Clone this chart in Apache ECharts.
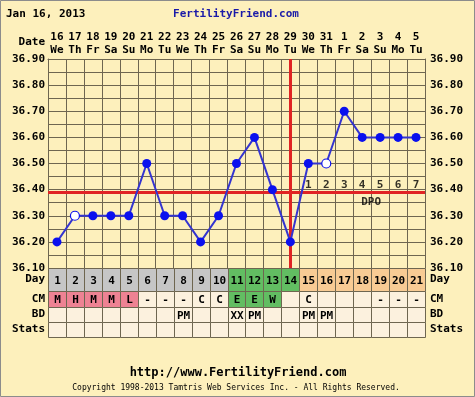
<!DOCTYPE html>
<html>
<head>
<meta charset="utf-8">
<title>BBT chart</title>
<script src="https://cdn.jsdelivr.net/npm/echarts@6/dist/echarts.min.js"></script>
<style>
  html, body { margin: 0; padding: 0; background: #fdf0bc; }
  #chart { width: 475px; height: 397px; }
</style>
</head>
<body>
<div id="chart"></div>
<script>
// chart data
const dates = ['16', '17', '18', '19', '20', '21', '22', '23', '24', '25', '26', '27', '28', '29', '30', '31', '1', '2', '3', '4', '5']
const weekdays = ['We', 'Th', 'Fr', 'Sa', 'Su', 'Mo', 'Tu', 'We', 'Th', 'Fr', 'Sa', 'Su', 'Mo', 'Tu', 'We', 'Th', 'Fr', 'Sa', 'Su', 'Mo', 'Tu']
const cycleDays = ['1', '2', '3', '4', '5', '6', '7', '8', '9', '10', '11', '12', '13', '14', '15', '16', '17', '18', '19', '20', '21']
const temps = [36.2, 36.3, 36.3, 36.3, 36.3, 36.5, 36.3, 36.3, 36.2, 36.3, 36.5, 36.6, 36.4, 36.2, 36.5, 36.5, 36.7, 36.6, 36.6, 36.6, 36.6]
const openPoints = [1, 15]
const cm = ['M', 'H', 'M', 'M', 'L', '-', '-', '-', 'C', 'C', 'E', 'E', 'W', '', 'C', '', '', '', '-', '-', '-']
const bd = ['', '', '', '', '', '', '', 'PM', '', '', 'XX', 'PM', '', '', 'PM', 'PM', '', '', '', '', '']
const stats = ['', '', '', '', '', '', '', '', '', '', '', '', '', '', '', '', '', '', '', '', '']
const dpo = ['', '', '', '', '', '', '', '', '', '', '', '', '', '', '1', '2', '3', '4', '5', '6', '7']
const coverline = 36.39
const ovulationIndex = 13

// colours / layout
const FONT = 'DejaVu Sans Mono'
const GRID_COLOR = '#6e6650'
const BLUE = '#0a10ee'
const RED = '#e02424'
const cellColors = {
  gray: '#c6c6c6',
  green: '#62bd62',
  peach: '#f8cb94',
  pink: '#ee8293',
  cream: '#fcf1de'
}
const PLOT = { left: 48, top: 59, width: 377, height: 209 }
const tableRows = [
  { name: 'Day', height: 23, values: cycleDays },
  { name: 'CM', height: 16, values: cm },
  { name: 'BD', height: 15, values: bd },
  { name: 'Stats', height: 15, values: stats }
]

const dayColor = (i) => {
  if (i > ovulationIndex) return cellColors.peach
  if (i >= ovulationIndex - 3) return cellColors.green
  return cellColors.gray
}
const cmColor = (v) => {
  if (['M', 'H', 'L'].includes(v)) return cellColors.pink
  if (['E', 'W'].includes(v)) return cellColors.green
  return cellColors.cream
}
const cellColor = (row, i, v) => {
  if (row === 0) return dayColor(i)
  if (row === 1) return cmColor(v)
  return cellColors.cream
}

const labelStyle = { color: '#000', fontFamily: FONT, fontWeight: 'bold', fontSize: 11 }

// main plot axes
const grids = [{ ...PLOT }]
const xAxes = [{
  type: 'category',
  gridIndex: 0,
  position: 'top',
  data: dates,
  axisLine: { show: true, lineStyle: { color: GRID_COLOR } },
  axisTick: { show: false },
  axisLabel: {
    ...labelStyle,
    interval: 0,
    margin: 2,
    lineHeight: 13,
    formatter: (v, i) => v + '\n' + weekdays[i]
  },
  splitLine: { show: true, interval: 0, lineStyle: { color: GRID_COLOR, width: 1 } }
}]
const yAxisBase = {
  type: 'value',
  min: 36.1,
  max: 36.9,
  interval: 0.1,
  axisLine: { show: true, lineStyle: { color: GRID_COLOR } },
  axisTick: { show: false },
  minorTick: { show: false, splitNumber: 2 }
}
const yAxes = [
  {
    ...yAxisBase,
    gridIndex: 0,
    position: 'left',
    axisLabel: { ...labelStyle, margin: 3, formatter: (v) => v.toFixed(2) },
    splitLine: { show: true, lineStyle: { color: GRID_COLOR, width: 1 } },
    minorSplitLine: { show: true, lineStyle: { color: GRID_COLOR, width: 1 } }
  },
  {
    ...yAxisBase,
    gridIndex: 0,
    position: 'right',
    axisLabel: { ...labelStyle, margin: 5, formatter: (v) => v.toFixed(2) },
    splitLine: { show: false }
  }
]
const tableSeries = []

// table below the plot, one grid per row
let rowTop = PLOT.top + PLOT.height
tableRows.forEach((row, r) => {
  const gi = r + 1
  grids.push({ left: PLOT.left, width: PLOT.width, top: rowTop, height: row.height })
  rowTop += row.height
  xAxes.push({ type: 'category', gridIndex: gi, data: dates, show: false })
  const rowAxis = {
    type: 'category',
    gridIndex: gi,
    data: [row.name],
    axisLine: { show: false },
    axisTick: { show: false },
    splitLine: { show: false }
  }
  yAxes.push({ ...rowAxis, position: 'left', axisLabel: { ...labelStyle, margin: 3 } })
  yAxes.push({ ...rowAxis, position: 'right', axisLabel: { ...labelStyle, margin: 5 } })
  tableSeries.push({
    type: 'custom',
    xAxisIndex: gi,
    yAxisIndex: yAxes.length - 2,
    silent: true,
    data: row.values.map((v, i) => [i, 0, v]),
    renderItem: (params, api) => {
      const i = api.value(0)
      const c = api.coord([i, 0])
      const size = api.size([1, 1])
      const x0 = Math.round(c[0] - size[0] / 2) + 0.5
      const x1 = Math.round(c[0] + size[0] / 2) + 0.5
      const y0 = Math.round(c[1] - size[1] / 2) + 0.5
      const y1 = Math.round(c[1] + size[1] / 2) + 0.5
      const text = row.values[i]
      return {
        type: 'group',
        children: [
          {
            type: 'rect',
            shape: { x: x0, y: y0, width: x1 - x0, height: y1 - y0 },
            style: { fill: cellColor(r, i, text), stroke: GRID_COLOR, lineWidth: 1 }
          },
          {
            type: 'text',
            x: (x0 + x1) / 2,
            y: (y0 + y1) / 2 + 1,
            style: {
              text: text,
              align: 'center',
              verticalAlign: 'middle',
              fill: '#000',
              font: 'bold 11px ' + FONT
            }
          }
        ]
      }
    }
  })
})

const option = {
  backgroundColor: '#fdf0bc',
  animation: false,
  grid: grids,
  xAxis: xAxes,
  yAxis: yAxes,
  graphic: [
    {
      type: 'rect',
      shape: { x: 0.5, y: 0.5, width: 474, height: 396 },
      style: { fill: 'none', stroke: '#8c8c8c', lineWidth: 1 }
    },
    {
      type: 'text', x: 6, y: 14,
      style: { text: 'Jan 16, 2013', font: 'bold 11px ' + FONT, fill: '#000', verticalAlign: 'middle' }
    },
    {
      type: 'text', x: 236, y: 14,
      style: { text: 'FertilityFriend.com', font: 'bold 11px ' + FONT, fill: '#1a1aa8', align: 'center', verticalAlign: 'middle' }
    },
    {
      type: 'text', x: 45, y: 42,
      style: { text: 'Date', font: 'bold 11px ' + FONT, fill: '#000', align: 'right', verticalAlign: 'middle' }
    },
    {
      type: 'text', x: 238, y: 373,
      style: { text: 'http://www.FertilityFriend.com', font: 'bold 12px ' + FONT, fill: '#000', align: 'center', verticalAlign: 'middle' }
    },
    {
      type: 'text', x: 236, y: 388,
      style: { text: 'Copyright 1998-2013 Tamtris Web Services Inc. - All Rights Reserved.', font: '8px ' + FONT, fill: '#000', align: 'center', verticalAlign: 'middle' }
    }
  ],
  series: [
    {
      name: 'Temperature',
      type: 'line',
      xAxisIndex: 0,
      yAxisIndex: 0,
      data: temps.map((t, i) => openPoints.includes(i)
        ? { value: t, itemStyle: { color: '#ffffff', borderColor: BLUE, borderWidth: 1.2 } }
        : t),
      symbol: 'circle',
      symbolSize: 9,
      itemStyle: { color: BLUE, borderWidth: 0 },
      lineStyle: { color: '#3434d0', width: 2 },
      z: 5,
      markLine: {
        silent: true,
        symbol: 'none',
        label: { show: false },
        data: [
          { yAxis: coverline, lineStyle: { color: RED, width: 3, type: 'solid' } },
          { xAxis: ovulationIndex, lineStyle: { color: RED, width: 3, type: 'solid' } }
        ]
      }
    },
    {
      name: 'DPO',
      type: 'scatter',
      xAxisIndex: 0,
      yAxisIndex: 0,
      silent: true,
      symbolSize: 0,
      data: dpo.map((d, i) => [i, coverline]).filter((p, i) => dpo[i] !== ''),
      label: {
        show: true,
        position: 'top',
        distance: 2,
        ...labelStyle,
        formatter: (p) => dpo[p.value[0]]
      },
      z: 6
    },
    {
      name: 'DPO label',
      type: 'scatter',
      xAxisIndex: 0,
      yAxisIndex: 0,
      silent: true,
      symbolSize: 0,
      data: [[dpo.indexOf('4'), coverline]],
      label: {
        show: true,
        position: 'bottom',
        distance: 4,
        offset: [9, 0],
        ...labelStyle,
        formatter: 'DPO'
      },
      z: 6
    },
    ...tableSeries
  ]
}

const chart = echarts.init(document.getElementById('chart'))
chart.setOption(option)
window.addEventListener('resize', () => chart.resize())
</script>
</body>
</html>
